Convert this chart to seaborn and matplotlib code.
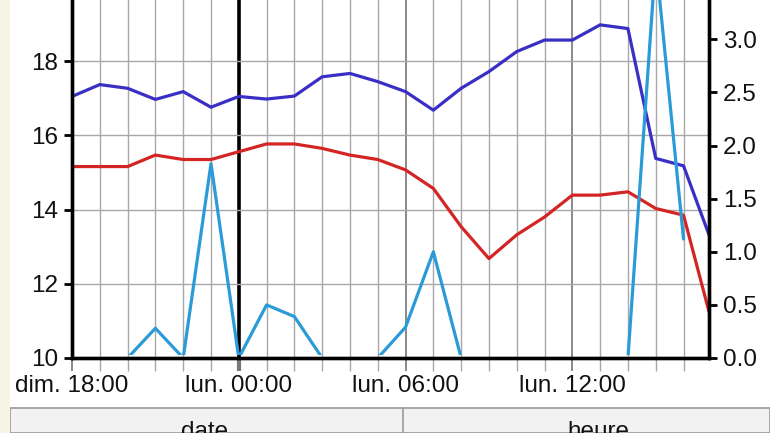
import matplotlib
matplotlib.use("Agg")
import matplotlib.pyplot as plt
import matplotlib.patches as mpatches
import numpy as np
import pandas as pd
import seaborn as sns

# ---- data ----
times = ["2023-06-04 18:00", "2023-06-04 19:00", "2023-06-04 20:00", "2023-06-04 21:00",
         "2023-06-04 22:00", "2023-06-04 23:00", "2023-06-05 00:00", "2023-06-05 01:00",
         "2023-06-05 02:00", "2023-06-05 03:00", "2023-06-05 04:00", "2023-06-05 05:00",
         "2023-06-05 06:00", "2023-06-05 07:00", "2023-06-05 08:00", "2023-06-05 09:00",
         "2023-06-05 10:00", "2023-06-05 11:00", "2023-06-05 12:00", "2023-06-05 13:00",
         "2023-06-05 14:00", "2023-06-05 15:00", "2023-06-05 16:00", "2023-06-05 16:55"]
blue_vals = [17.05, 17.37, 17.27, 16.97, 17.18, 16.76, 17.05, 16.98, 17.06, 17.58, 17.67, 17.45,
             17.18, 16.68, 17.27, 17.72, 18.26, 18.57, 18.57, 18.98, 18.88, 15.38, 15.18, 13.32]
red_vals = [15.16, 15.16, 15.16, 15.47, 15.35, 15.35, 15.56, 15.77, 15.77, 15.65, 15.47, 15.35,
            15.07, 14.57, 13.54, 12.68, 13.32, 13.80, 14.39, 14.39, 14.48, 14.03, 13.85, 11.25]
cyan_vals = [0.0, 0.0, 0.0, 0.28, 0.0, 1.83, 0.0, 0.50, 0.39, 0.0, 0.0, 0.0,
             0.29, 1.00, 0.0, 0.0, 0.0, 0.0, 0.0, 0.0, 0.0, 3.75, 1.12, np.nan]
tick_times = ["2023-06-04 18:00", "2023-06-05 00:00", "2023-06-05 06:00", "2023-06-05 12:00"]
tick_labels = ["dim. 18:00", "lun. 00:00", "lun. 06:00", "lun. 12:00"]
left_ticks = [10, 12, 14, 16, 18]
right_ticks = [0.0, 0.5, 1.0, 1.5, 2.0, 2.5, 3.0]
footer_labels = ["date", "heure"]

df = pd.DataFrame({"time": pd.to_datetime(times), "blue": blue_vals,
                   "red": red_vals, "cyan": cyan_vals})
t_ticks = pd.to_datetime(tick_times)

sns.set_theme(style="white")
plt.rcParams["font.family"] = ["Liberation Sans", "DejaVu Sans"]

fig = plt.figure(figsize=(7.7, 4.33), dpi=100)
fig.patch.set_facecolor("white")
ax = fig.add_axes([72 / 770, 75 / 433, 637 / 770, 358 / 433])
ax.set_facecolor("white")

BLUE = "#3a2fc4"
RED = "#d42424"
CYAN = "#2b9bd8"
LW = 2.3

sns.lineplot(data=df, x="time", y="blue", ax=ax, color=BLUE, lw=LW, zorder=2)
sns.lineplot(data=df, x="time", y="red", ax=ax, color=RED, lw=LW, zorder=2)
ax.set_ylim(10, 19.65)
ax.set_xlim(df["time"].iloc[0], df["time"].iloc[-1])

ax2 = ax.twinx()
sns.lineplot(data=df, x="time", y="cyan", ax=ax2, color=CYAN, lw=LW, zorder=2)
ax2.set_ylim(0, 3.37)
# hide the zero-level stretches behind the x axis line, as in the original
clip = mpatches.Rectangle((0, 0.007), 1, 2, transform=ax2.transAxes, visible=False)
ax2.add_patch(clip)
for ln in ax2.lines:
    ln.set_clip_path(clip)

# grids
hours = pd.to_datetime(times[:-1])
ax.set_xticks(t_ticks)
ax.set_xticklabels(tick_labels)
ax.set_xticks(hours, minor=True)
ax.grid(False)
tick_set = set(t_ticks)
for h in hours:
    if h in tick_set:
        continue
    ax.axvline(h, color="#a8a8a8", lw=1.0, zorder=1)
for t in t_ticks[2:]:
    ax.axvline(t, color="#777777", lw=1.2, zorder=1)
ax.axvline(t_ticks[1], color="black", lw=2.6, zorder=1)
for v in left_ticks:
    ax.axhline(v, color="#a8a8a8", lw=1.0, zorder=1)

ax.set_yticks(left_ticks)
ax.set_yticklabels([str(v) for v in left_ticks])
ax2.set_yticks(right_ticks)
ax2.set_yticklabels([f"{v:.1f}" for v in right_ticks])

for a in (ax, ax2):
    a.set_xlabel("")
    a.set_ylabel("")
    for s in ("left", "right", "bottom"):
        a.spines[s].set_color("black")
        a.spines[s].set_linewidth(2.4)
    a.spines["top"].set_visible(False)

ax.tick_params(axis="y", which="major", direction="out", length=6, width=2, color="black",
               labelsize=17.5, pad=4, left=True)
ax2.tick_params(axis="y", which="major", direction="out", length=6, width=2, color="black",
                labelsize=17.5, pad=4, right=True)
ax.tick_params(axis="x", which="major", direction="out", length=9, width=1.2, color="#777777",
               labelsize=17.5, pad=3, bottom=True)
ax.tick_params(axis="x", which="minor", direction="out", length=9, width=1.0, color="#a8a8a8",
               bottom=True)
mt = ax.xaxis.get_major_ticks()
mt[1].tick1line.set_color("black")
mt[1].tick1line.set_markeredgewidth(3)
for lab in ax.get_xticklabels() + ax.get_yticklabels() + ax2.get_yticklabels():
    lab.set_color("#111111")

# footer bar (table header), partly cropped at the bottom edge as in the reference
fig.patches.append(mpatches.Rectangle((10 / 770, 0), 760 / 770, 25 / 433, transform=fig.transFigure,
                                      facecolor="#f2f2f2", edgecolor="#9a9a9a", lw=1.2, zorder=0))
fig.lines.append(plt.Line2D([403 / 770, 403 / 770], [0, 25 / 433], transform=fig.transFigure,
                            color="#9a9a9a", lw=1.2))
fig.text(205 / 770, 12 / 433, footer_labels[0], ha="center", va="top", fontsize=17.5, color="#111111")
fig.text(598 / 770, 12 / 433, footer_labels[1], ha="center", va="top", fontsize=17.5, color="#111111")

# faint blurred map strip at far left
fig.patches.append(mpatches.Rectangle((0, 0), 10 / 770, 1, transform=fig.transFigure,
                                      facecolor="#f6f4e4", edgecolor="none", zorder=0))

fig.savefig("out.png", dpi=100, facecolor="white")
